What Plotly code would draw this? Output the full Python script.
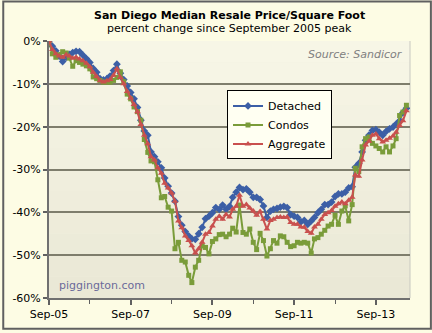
import pandas as pd
import plotly.graph_objects as go

months = pd.date_range("2005-09-01", periods=106, freq="MS")

detached = [0, -1.2, -2.3, -3.5, -4.8, -3.8, -3.1, -2.7, -2.4, -2.5,
            -3.3, -4.1, -5.0, -6.4, -7.3, -8.8, -9.1, -8.8, -8.2, -6.9,
            -5.4, -7.5, -9.0, -10.5, -12.0, -13.5, -15.5, -18.5, -21.0, -22.0,
            -25.9, -27.0, -28.2, -29.6, -32.0, -33.9, -35.5, -37.4, -41.0, -43.0,
            -44.5, -45.5, -46.2, -46.3, -45.0, -43.5, -41.5, -40.9, -40.1, -38.9,
            -39.3, -38.3, -39.3, -38.6, -36.5, -35.3, -34.2, -34.7, -34.5, -35.3,
            -36.5, -36.5, -37.0, -38.5, -41.2, -39.7, -39.3, -39.1, -38.8, -38.6,
            -38.9, -40.5, -40.9, -41.2, -42.2, -41.9, -42.8, -42.0, -41.2, -40.1,
            -39.3, -38.2, -38.2, -37.6, -36.3, -35.7, -35.7, -35.3, -34.3, -34.0,
            -29.5, -28.6, -25.9, -23.2, -22.0, -20.9, -20.7, -21.3, -22.0, -21.1,
            -20.5, -20.1, -19.4, -18.6, -16.7, -15.7]

condos = [0, -3.0, -3.8, -3.2, -2.5, -2.8, -4.0, -5.9, -4.6, -5.0,
          -5.4, -5.8, -6.5, -8.4, -8.8, -9.2, -9.6, -9.6, -9.6, -9.2,
          -8.5, -7.2, -9.5, -12.4, -13.5, -15.4, -16.5, -18.5, -23.0, -26.0,
          -28.0, -28.2, -32.4, -36.6, -36.3, -38.8, -39.7, -48.5, -47.0, -51.2,
          -51.6, -54.7, -56.4, -52.8, -51.2, -47.8, -48.2, -49.7, -46.8, -46.2,
          -45.2, -45.1, -45.7, -45.1, -43.7, -44.6, -38.3, -44.7, -45.1, -43.9,
          -47.0, -48.7, -44.9, -46.6, -50.2, -48.5, -46.6, -47.2, -45.5, -45.7,
          -47.0, -48.0, -47.8, -47.0, -47.2, -47.0, -47.2, -49.5, -46.2, -45.9,
          -45.1, -44.2, -43.2, -42.8, -40.7, -42.8, -39.7, -38.5, -42.0, -38.2,
          -29.7, -30.5, -24.7, -22.8, -22.4, -23.9, -24.5, -25.1, -25.9, -24.7,
          -25.9, -24.5, -22.8, -17.4, -16.6, -15.0]

aggregate = [0, -2.0, -3.0, -3.5, -3.8, -3.2, -3.5, -4.0, -3.8, -4.2,
             -4.6, -5.2, -6.0, -7.3, -8.3, -9.3, -9.6, -9.3, -9.0, -8.0,
             -6.5, -8.5, -10.0, -11.8, -13.3, -14.8, -16.5, -19.5, -22.0, -24.0,
             -27.0, -27.8, -29.6, -30.9, -33.2, -34.3, -35.5, -37.4, -42.0, -43.6,
             -45.5, -46.6, -47.8, -49.5, -48.5, -47.0, -45.1, -44.7, -43.2, -41.6,
             -40.9, -41.6, -40.5, -41.1, -39.3, -38.6, -36.0, -38.6, -38.2, -39.0,
             -39.7, -40.7, -39.8, -41.6, -43.9, -41.9, -41.6, -41.2, -41.1, -41.2,
             -41.1, -42.4, -42.8, -42.8, -43.4, -43.5, -44.5, -44.9, -43.4, -42.8,
             -41.6, -40.5, -40.1, -39.6, -38.6, -38.0, -37.6, -38.0, -37.2, -36.5,
             -31.3, -31.6, -27.8, -24.3, -23.4, -22.0, -21.7, -22.8, -23.6, -23.2,
             -22.7, -22.2, -21.3, -19.7, -18.6, -16.3]

x_tick_vals = ["2005-09-01", "2007-09-01", "2009-09-01", "2011-09-01", "2013-09-01"]
x_tick_text = ["Sep-05", "Sep-07", "Sep-09", "Sep-11", "Sep-13"]
y_tick_vals = [0, -10, -20, -30, -40, -50, -60]
y_tick_text = ["0%", "-10%", "-20%", "-30%", "-40%", "-50%", "-60%"]

FONT = "DejaVu Sans, Verdana, sans-serif"
L, R, T, B = 47, 22, 41, 32
W, H = 432, 333
PW, PH = W - L - R, H - T - B


def px_x(px):
    return (px - L) / PW


def px_y(py):
    return (H - B - py) / PH


fig = go.Figure()
series = [
    ("Detached", detached, "#3C5FA6", "diamond", 6),
    ("Condos", condos, "#7A9C3A", "square", 5),
    ("Aggregate", aggregate, "#C9504E", "triangle-up", 6),
]
for name, vals, col, sym, sz in series:
    fig.add_trace(go.Scatter(
        x=months, y=vals, name=name, mode="lines+markers",
        line=dict(color=col, width=2),
        marker=dict(symbol=sym, size=sz, color=col, line=dict(width=0)),
    ))

shapes = []
n = 12
for i in range(n):
    t = i / (n - 1)
    c0 = (247, 246, 230)
    c1 = (234, 232, 214)
    c = tuple(int(round(c0[k] + (c1[k] - c0[k]) * t)) for k in range(3))
    shapes.append(dict(type="rect", xref="paper", yref="paper",
                       x0=0, x1=1, y0=1 - (i + 1) / n, y1=1 - i / n,
                       fillcolor="rgb(%d,%d,%d)" % c, line=dict(width=0),
                       layer="below"))
shapes.append(dict(type="line", xref="paper", yref="paper", x0=1, x1=1, y0=0, y1=1,
                   line=dict(color="#C8C8C0", width=1), layer="below"))
shapes.append(dict(type="rect", xref="paper", yref="paper",
                   x0=px_x(1), x1=px_x(431), y0=px_y(332), y1=px_y(1),
                   line=dict(color="#606060", width=2), fillcolor="rgba(0,0,0,0)"))

fig.update_layout(
    width=W, height=H,
    margin=dict(l=L, r=R, t=T, b=B, pad=0),
    paper_bgcolor="#FDFCE4",
    plot_bgcolor="#F3F1DE",
    font=dict(family=FONT, size=11, color="#000000"),
    showlegend=True,
    legend=dict(x=px_x(226), y=px_y(91), xanchor="left", yanchor="top",
                bgcolor="#FFFFF2", bordercolor="#000000", borderwidth=1,
                font=dict(size=11), itemwidth=30, tracegroupgap=0),
    shapes=shapes,
    annotations=[
        dict(text="<b>San Diego Median Resale Price/Square Foot</b>", x=0.5, y=px_y(15),
             xref="paper", yref="paper", showarrow=False, xanchor="center", yanchor="middle",
             font=dict(size=11)),
        dict(text="percent change since September 2005 peak", x=0.5, y=px_y(28),
             xref="paper", yref="paper", showarrow=False, xanchor="center", yanchor="middle",
             font=dict(size=11)),
        dict(text="<i>Source: Sandicor</i>", x=px_x(405), y=px_y(55),
             xref="paper", yref="paper", showarrow=False, xanchor="right", yanchor="middle",
             font=dict(size=11, color="#808080")),
        dict(text="piggington.com", x=px_x(55), y=px_y(288),
             xref="paper", yref="paper", showarrow=False, xanchor="left", yanchor="middle",
             font=dict(size=11, color="#6A6A9A")),
    ],
)

fig.update_xaxes(
    type="date", range=["2005-09-01", "2014-07-03"],
    tickmode="array", tickvals=x_tick_vals, ticktext=x_tick_text,
    ticks="outside", ticklen=5, tickwidth=2, tickcolor="#606060",
    showline=True, linecolor="#707070", linewidth=2,
    showgrid=False, zeroline=False,
    minor=dict(tickmode="array",
               tickvals=["2006-09-01", "2008-09-01", "2010-09-01", "2012-09-01"],
               ticks="outside", ticklen=4, tickwidth=1, tickcolor="#606060", showgrid=False),
    tickfont=dict(size=11),
)
fig.update_yaxes(
    range=[-60, 0], tickmode="array", tickvals=y_tick_vals, ticktext=y_tick_text,
    ticks="outside", ticklen=4, tickwidth=2, tickcolor="#606060",
    showline=True, linecolor="#707070", linewidth=2,
    showgrid=True, gridcolor="#7E7D6C", gridwidth=2, zeroline=False,
    tickfont=dict(size=11),
)

fig.write_html("out.html")
